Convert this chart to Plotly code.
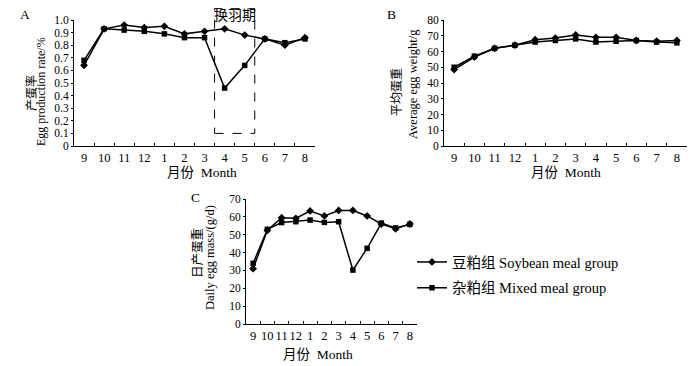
import plotly.graph_objects as go

months = ["9", "10", "11", "12", "1", "2", "3", "4", "5", "6", "7", "8"]

# A: egg production rate (%)
rate_soy = [0.64, 0.93, 0.96, 0.94, 0.95, 0.89, 0.91, 0.93, 0.88, 0.85, 0.80, 0.86]
rate_mix = [0.68, 0.93, 0.92, 0.91, 0.89, 0.86, 0.86, 0.46, 0.64, 0.85, 0.82, 0.85]

# B: average egg weight (g)
wt_soy = [48.5, 56.5, 62.0, 64.0, 67.5, 68.5, 70.5, 69.0, 69.0, 67.0, 66.5, 67.0]
wt_mix = [50.0, 57.0, 62.0, 64.0, 66.0, 67.0, 68.0, 66.0, 66.5, 67.0, 66.0, 65.5]

# C: daily egg mass (g/d)
mass_soy = [31.0, 52.5, 59.5, 59.2, 63.3, 60.5, 63.6, 63.6, 60.5, 56.0, 53.3, 56.0]
mass_mix = [34.0, 53.0, 56.8, 57.3, 58.2, 56.9, 57.3, 30.2, 42.4, 56.5, 53.8, 55.8]

yt_a = [0, 0.1, 0.2, 0.3, 0.4, 0.5, 0.6, 0.7, 0.8, 0.9, 1.0]
yt_a_txt = ["0", "0.1", "0.2", "0.3", "0.4", "0.5", "0.6", "0.7", "0.8", "0.9", "1.0"]
yt_b = [0, 10, 20, 30, 40, 50, 60, 70, 80]
yt_c = [0, 10, 20, 30, 40, 50, 60, 70]

molt_start, molt_end = 6.5, 8.5  # category index boundaries (3|4 .. 5|6)
molt_bottom, molt_top = 0.1, 1.09

soy_name = "豆粕组 Soybean meal group"
mix_name = "杂粕组 Mixed meal group"

FONT = "Liberation Serif, Times New Roman, Noto Sans CJK SC, serif"
OFF = 8  # default page body margin
W, H = 700 - OFF, 366 - OFF

def px_x(p):
    return (p - OFF) / W

def px_y(p):
    return 1 - (p - OFF) / H

dom = {
    "A": ([px_x(74), px_x(315)], [px_y(146), px_y(20)]),
    "B": ([px_x(444), px_x(687)], [px_y(146), px_y(20)]),
    "C": ([px_x(246), px_x(417)], [px_y(324), px_y(199)]),
}

fig = go.Figure()

def add_pair(xa, ya, soy, mix, show):
    fig.add_trace(go.Scatter(
        x=months, y=soy, xaxis=xa, yaxis=ya, mode="lines+markers",
        name=soy_name, legendgroup="soy", showlegend=show,
        line=dict(color="black", width=1.5),
        marker=dict(symbol="diamond", size=6, color="black")))
    fig.add_trace(go.Scatter(
        x=months, y=mix, xaxis=xa, yaxis=ya, mode="lines+markers",
        name=mix_name, legendgroup="mix", showlegend=show,
        line=dict(color="black", width=1.5),
        marker=dict(symbol="square", size=5.5, color="black")))

add_pair("x", "y", rate_soy, rate_mix, True)
add_pair("x2", "y2", wt_soy, wt_mix, False)
add_pair("x3", "y3", mass_soy, mass_mix, False)

xtickfont = dict(family=FONT, size=12.5, color="black")
ytickfont = dict(family=FONT, size=11.5, color="black")

def xax(domain, anchor):
    return dict(domain=domain, anchor=anchor, type="category",
                categoryorder="array", categoryarray=months,
                range=[-0.5, 11.5], showline=True, linecolor="black",
                linewidth=1, ticks="inside", tickson="boundaries",
                ticklen=3, tickcolor="black", showgrid=False,
                zeroline=False, tickfont=xtickfont, tickangle=0,
                tickmode="linear", tick0=0, dtick=1, automargin=False)

def yax(domain, anchor, rng, tv, tt):
    return dict(domain=domain, anchor=anchor, range=rng, tickvals=tv,
                ticktext=tt, showline=True, linecolor="black", linewidth=1,
                ticks="outside", ticklen=2, tickcolor="black",
                showgrid=False, zeroline=False, tickfont=ytickfont,
                automargin=False)

fig.update_layout(
    template="none",
    width=W, height=H, margin=dict(l=0, r=0, t=0, b=0, pad=0),
    paper_bgcolor="white", plot_bgcolor="white",
    font=dict(family=FONT, size=13, color="black"),
    xaxis=xax(dom["A"][0], "y"),
    yaxis=yax(dom["A"][1], "x", [0, 1.0], yt_a, yt_a_txt),
    xaxis2=xax(dom["B"][0], "y2"),
    yaxis2=yax(dom["B"][1], "x2", [0, 80], yt_b, [str(v) for v in yt_b]),
    xaxis3=xax(dom["C"][0], "y3"),
    yaxis3=yax(dom["C"][1], "x3", [0, 70], yt_c, [str(v) for v in yt_c]),
    showlegend=True,
    legend=dict(x=px_x(412), y=px_y(246), xanchor="left", yanchor="top",
                traceorder="grouped", tracegroupgap=4,
                font=dict(family=FONT, size=14.5, color="black"),
                bgcolor="rgba(0,0,0,0)", borderwidth=0, itemwidth=30),
)

# moulting period dashed box
ya0, ya1 = dom["A"][1]
fig.add_shape(type="rect", xref="x", yref="paper",
              x0=molt_start, x1=molt_end,
              y0=ya0 + molt_bottom * (ya1 - ya0),
              y1=ya0 + molt_top * (ya1 - ya0),
              line=dict(color="black", width=1, dash="dash"))
fig.add_annotation(xref="x", yref="paper", x=(molt_start + molt_end) / 2,
                   y=px_y(15), text="换羽期", showarrow=False,
                   xanchor="center", yanchor="middle",
                   font=dict(family=FONT, size=14, color="black"))

def ann(x, y, text, size=13, angle=0):
    fig.add_annotation(xref="paper", yref="paper", x=px_x(x), y=px_y(y),
                       text=text, showarrow=False, textangle=angle,
                       xanchor="center", yanchor="middle",
                       font=dict(family=FONT, size=size, color="black"))

# panel letters
ann(25, 15, "A", 13.5)
ann(391, 14, "B", 13.5)
ann(195, 197, "C", 13.5)

# x titles
ann(202, 172, "月份  Month", 13.5)
ann(566, 172, "月份  Month", 13.5)
ann(318, 354, "月份  Month", 13.5)

# y titles
ann(31, 93, "产蛋率", 12, -90)
ann(41, 92, "Egg production rate/%", 12, -90)
ann(397, 92, "平均蛋重", 12, -90)
ann(413, 84, "Average egg weight/g", 12.5, -90)
ann(197, 253, "日产蛋重", 12.5, -90)
ann(210, 258, "Daily egg mass/(g/d)", 12.5, -90)

fig.write_html("out.html")
